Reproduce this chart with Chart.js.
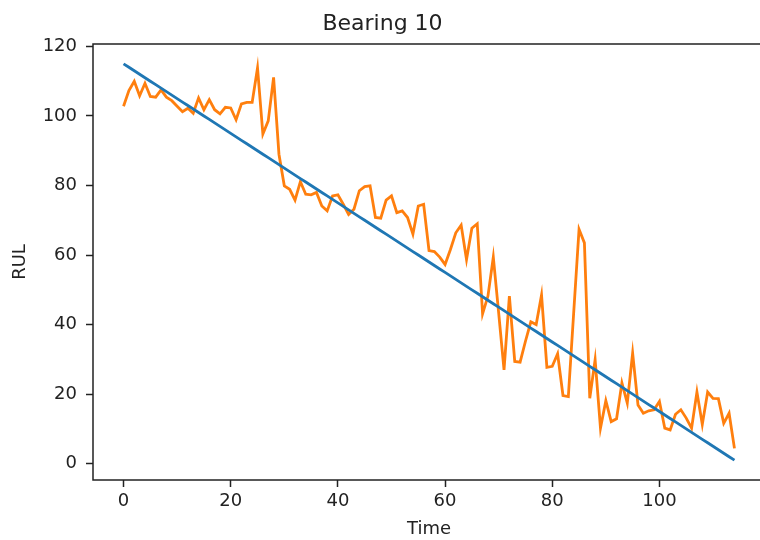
<!DOCTYPE html>
<html>
<head>
<meta charset="utf-8">
<script src="https://cdn.jsdelivr.net/npm/chart.js@4/dist/chart.umd.min.js"></script>
<style>
    body { margin: 0; overflow: hidden; background: #fff; }
    #wrap { width: 772px; height: 540px; }
</style>
</head>
<body>
<div id="wrap"><canvas id="rulChart" width="772" height="540"></canvas></div>
<script>
// Time steps (x axis)
const timeSteps = [
    0, 1, 2, 3, 4, 5, 6, 7, 8, 9, 10, 11, 12, 13, 14, 15, 16, 17, 18, 19,
    20, 21, 22, 23, 24, 25, 26, 27, 28, 29, 30, 31, 32, 33, 34, 35, 36, 37, 38, 39,
    40, 41, 42, 43, 44, 45, 46, 47, 48, 49, 50, 51, 52, 53, 54, 55, 56, 57, 58, 59,
    60, 61, 62, 63, 64, 65, 66, 67, 68, 69, 70, 71, 72, 73, 74, 75, 76, 77, 78, 79,
    80, 81, 82, 83, 84, 85, 86, 87, 88, 89, 90, 91, 92, 93, 94, 95, 96, 97, 98, 99,
    100, 101, 102, 103, 104, 105, 106, 107, 108, 109, 110, 111, 112, 113, 114
];

// True RUL (blue)
const trueRul = [
    115, 114, 113, 112, 111, 110, 109, 108, 107, 106, 105, 104, 103, 102, 101, 100, 99, 98, 97, 96,
    95, 94, 93, 92, 91, 90, 89, 88, 87, 86, 85, 84, 83, 82, 81, 80, 79, 78, 77, 76,
    75, 74, 73, 72, 71, 70, 69, 68, 67, 66, 65, 64, 63, 62, 61, 60, 59, 58, 57, 56,
    55, 54, 53, 52, 51, 50, 49, 48, 47, 46, 45, 44, 43, 42, 41, 40, 39, 38, 37, 36,
    35, 34, 33, 32, 31, 30, 29, 28, 27, 26, 25, 24, 23, 22, 21, 20, 19, 18, 17, 16,
    15, 14, 13, 12, 11, 10, 9, 8, 7, 6, 5, 4, 3, 2, 1
];

// Predicted RUL (orange)
const predictedRul = [
    102.8, 107.3, 110, 105.8, 109.4, 105.6, 105.4, 107.5, 105.4, 104.4,
    102.8, 101.2, 102.2, 100.8, 105.2, 101.8, 104.7, 101.8, 100.6, 102.5,
    102.3, 98.9, 103.5, 103.9, 103.9, 113.8, 94.8, 98.6, 111.1, 89,
    79.9, 78.9, 75.8, 81.1, 77.5, 77.3, 78, 74.1, 72.7, 77,
    77.3, 74.6, 71.7, 73.2, 78.5, 79.7, 79.9, 70.8, 70.6, 75.8,
    77, 72.2, 72.7, 70.8, 66, 74.1, 74.6, 61.3, 61, 59.4,
    57.3, 61.6, 66.4, 68.6, 58.7, 67.7, 69, 43.1, 48.2, 59.4,
    43.4, 27, 48.2, 29.4, 29.2, 35.2, 40.8, 40, 48.5, 27.7,
    28, 31.6, 19.6, 19.3, 43.4, 67.4, 63.5, 18.8, 29.9, 10.2,
    18.1, 12.1, 12.9, 23.2, 17.4, 31.8, 16.9, 14.5, 15.2, 15.5,
    17.9, 10.2, 9.7, 14.2, 15.5, 13.1, 10.2, 20.6, 11.3, 20.6,
    18.8, 18.7, 11.6, 14.5, 4.4
];

const xTicks = [0, 20, 40, 60, 80, 100];
const yTicks = [0, 20, 40, 60, 80, 100, 120];

const textColor = '#222';
const fontFamily = "'DejaVu Sans', sans-serif";

// Draw the box around the plot area like matplotlib spines
const framePlugin = {
    id: 'frame',
    afterDatasetsDraw(chart) {
        const { ctx, chartArea } = chart;
        ctx.save();
        ctx.strokeStyle = '#222';
        ctx.lineWidth = 1.5;
        ctx.strokeRect(chartArea.left, chartArea.top, chartArea.right - chartArea.left, chartArea.bottom - chartArea.top);
        ctx.restore();
    }
};

const ctx = document.getElementById('rulChart').getContext('2d');
new Chart(ctx, {
    type: 'line',
    data: {
        labels: timeSteps,
        datasets: [
            {
                label: 'True RUL',
                data: trueRul,
                borderColor: '#1f77b4',
                borderWidth: 2.8,
                pointRadius: 0,
                tension: 0,
                fill: false
            },
            {
                label: 'Predicted RUL',
                data: predictedRul,
                borderColor: '#ff7f0e',
                borderWidth: 2.8,
                pointRadius: 0,
                tension: 0,
                fill: false
            }
        ]
    },
    options: {
        responsive: false,
        animation: false,
        layout: {
            padding: { left: 0, right: 7, top: 0, bottom: 0 }
        },
        plugins: {
            legend: { display: false },
            tooltip: { enabled: false },
            title: {
                display: true,
                text: 'Bearing 10',
                color: textColor,
                font: { family: fontFamily, size: 22, weight: 'normal' },
                padding: { top: 11, bottom: 6.6 }
            }
        },
        scales: {
            x: {
                type: 'linear',
                min: -5.7,
                max: 119.7,
                afterFit: s => { s.height = 60; },
                afterBuildTicks: s => { s.ticks = xTicks.map(v => ({ value: v })); },
                grid: { display: true, drawOnChartArea: false, tickLength: 7, tickColor: '#222', tickWidth: 1.5 },
                border: { display: false },
                ticks: {
                    color: textColor,
                    font: { family: fontFamily, size: 18 },
                    padding: 4,
                    maxRotation: 0
                },
                title: {
                    display: true,
                    text: 'Time',
                    color: textColor,
                    font: { family: fontFamily, size: 18 },
                    padding: { top: 0, bottom: 0 }
                }
            },
            y: {
                min: -4.7,
                max: 120.7,
                afterFit: s => { s.width = 93; },
                afterBuildTicks: s => { s.ticks = yTicks.map(v => ({ value: v })); },
                grid: { display: true, drawOnChartArea: false, tickLength: 7, tickColor: '#222', tickWidth: 1.5 },
                border: { display: false },
                ticks: {
                    color: textColor,
                    font: { family: fontFamily, size: 18 },
                    padding: 9
                },
                title: {
                    display: true,
                    text: 'RUL',
                    color: textColor,
                    font: { family: fontFamily, size: 18 },
                    padding: { top: 10, bottom: 0 }
                }
            }
        }
    },
    plugins: [framePlugin]
});
</script>
</body>
</html>
